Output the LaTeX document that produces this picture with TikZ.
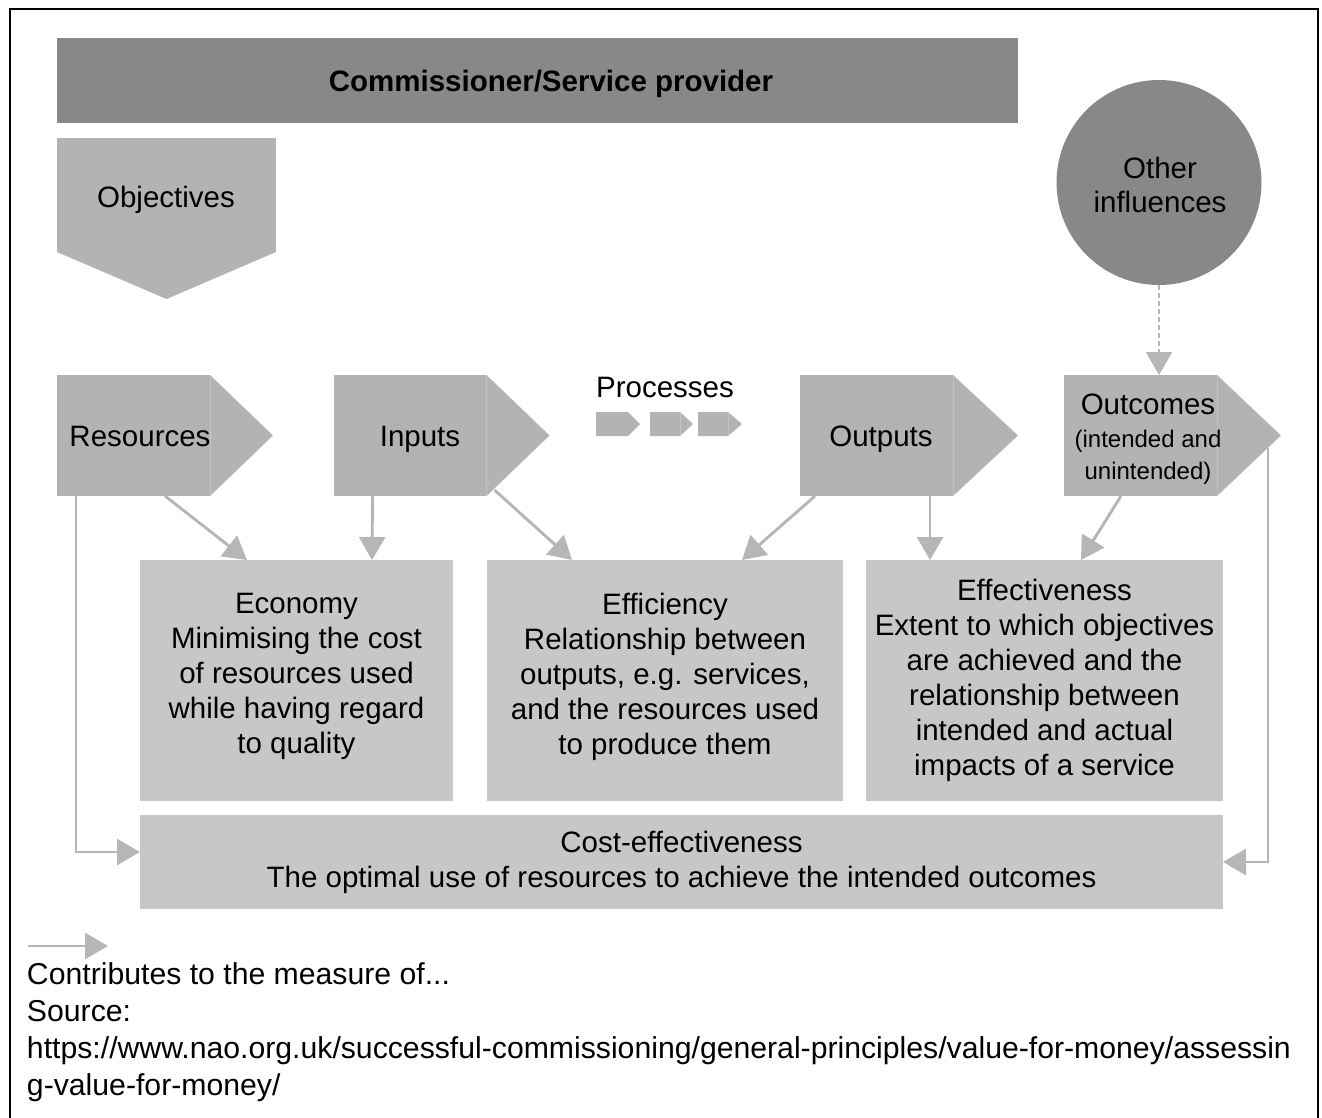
\documentclass[tikz,border=0pt]{standalone}
\usepackage{fontspec}
\setmainfont{Liberation Sans}
\usetikzlibrary{arrows.meta,calc}
\definecolor{barc}{RGB}{135,136,138}
\definecolor{pentc}{RGB}{178,179,181}
\definecolor{boxc}{RGB}{198,199,201}
\definecolor{linec}{RGB}{181,182,184}
\definecolor{sepc}{RGB}{196,197,199}
\newcommand\mypentip[2]{%
  \fill[pentc] (#1.north east) -- ($(#1.east)+(#2,0)$) -- (#1.south east) -- cycle;
  \draw[sepc,line width=0.8pt] (#1.north east) -- (#1.south east);}
\begin{document}
\begin{tikzpicture}[x=1pt,y=-1pt,
  font=\fontsize{29.5}{35}\selectfont,
  blk/.style={inner sep=0pt,outer sep=0pt,draw=none},
  pent/.style={blk,fill=pentc,minimum width=153pt,minimum height=121pt},
  mbox/.style={blk,fill=boxc,align=center},
  conn/.style={draw=linec,line width=2.9pt,-{Triangle[length=23pt,width=26pt]}},
  lbl/.style={inner sep=0pt,outer sep=0pt,anchor=base},
  small/.style={font=\fontsize{24}{30}\selectfont},
  legt/.style={lbl,anchor=base west,font=\fontsize{30.2}{35}\selectfont},
]
\useasboundingbox (0,0) rectangle (1322,1117);
\draw[black,line width=2.6pt] (1318,1125) -- (1318,8.8) -- (10,8.8) -- (10,1125);

% header bar
\node[blk,fill=barc,minimum width=961pt,minimum height=85pt] (comm) at (537.5,80) {};
\node[lbl,font=\bfseries\fontsize{29.5}{35}\selectfont] (commt) at (551,91.5) {Commissioner/Service provider};

% objectives
\node[blk,fill=pentc,minimum width=219pt,minimum height=114pt] (obj) at (166.5,195) {};
\fill[pentc] (obj.south west) -- ($(obj.south)+(0,47)$) -- (obj.south east) -- cycle;
\node[lbl] (objt) at (166,207) {Objectives};

% other influences
\node[blk,circle,fill=barc,minimum size=205pt] (oth) at (1159,182.5) {};
\node[lbl] (otht1) at (1160,178.5) {Other};
\node[lbl] (otht2) at (1160,212) {influences};

% pentagons
\node[pent] (res) at (133.5,435.5) {};
\mypentip{res}{63}
\node[lbl] (rest) at (140,446.5) {Resources};

\node[pent] (inp) at (410,435.5) {};
\mypentip{inp}{63}
\node[lbl] (inpt) at (420,446.5) {Inputs};

\node[pent] (outp) at (876.5,435.5) {};
\mypentip{outp}{65}
\node[lbl] (outpt) at (881,446.5) {Outputs};

\node[pent] (outc) at (1140.5,435.5) {};
\mypentip{outc}{64}
\node[lbl] (outct1) at (1148,414) {Outcomes};
\node[lbl,small] (outct2) at (1148,447) {(intended and};
\node[lbl,small] (outct3) at (1148,479.5) {unintended)};

% processes
\node[lbl] (proct) at (665,397) {Processes};
\foreach \a/\b/\c in {596/628/640, 650/680/693, 698/728/742}{
  \fill[pentc] (\a,412) -- (\b,412) -- (\c,424) -- (\b,436) -- (\a,436) -- cycle;
}
\draw[sepc,line width=0.8pt] (680,412) -- (680,436);
\draw[sepc,line width=0.8pt] (728,412) -- (728,436);

% measure boxes
\node[mbox,minimum width=313pt,minimum height=241pt] (econ) at (296.5,680.5)
  {Economy\\Minimising the cost\\of resources used\\while having regard\\to quality\\[-21pt]\mbox{}};
\node[mbox,minimum width=356pt,minimum height=241pt] (effi) at (665,680.5)
  {Efficiency\\Relationship between\\outputs, e.g. services,\\and the resources used\\to produce them\\[-21pt]\mbox{}};
\node[mbox,minimum width=357pt,minimum height=241pt] (effe) at (1044.5,680.5)
  {Effectiveness\\Extent to which objectives\\are achieved and the\\relationship between\\intended and actual\\impacts of a service};
\node[mbox,minimum width=1083pt,minimum height=94pt] (cost) at (681.5,862)
  {Cost-effectiveness\\The optimal use of resources to achieve the intended outcomes};

% connectors
\draw[conn] ($(res.south west)+(108,0)$) -- ($(econ.north west)+(107,0)$);
\draw[conn] ($(inp.south west)+(39,0)$) -- ($(econ.north west)+(232,0)$);
\draw[conn] ($(inp.south east)+(8,-6)$) -- ($(effi.north west)+(85,0)$);
\draw[conn] ($(outp.south west)+(15,0)$) -- ($(effi.north west)+(255,0)$);
\draw[conn] ($(outp.south west)+(130,0)$) -- ($(effe.north west)+(64,0)$);
\draw[conn] ($(outc.south west)+(57,0)$) -- ($(effe.north west)+(215,0)$);
\draw[conn] ($(res.south west)+(19,0)$) |- ($(cost.west)+(0,-10)$);
\draw[conn] ($(outc.south east)+(51,-48)$) |- (cost.east);
\draw[draw=linec,line width=2.6pt,dash pattern=on 5pt off 3pt,-{Triangle[length=23pt,width=26pt]}]
  (oth.south) -- (oth.south |- outc.north);

% legend
\coordinate (lgA) at (28,946);
\coordinate (lgB) at (108,946);
\draw[conn] (lgA) -- (lgB);
\node[legt] (leg1) at (27,984) {Contributes to the measure of...};
\node[legt] (leg2) at (27,1021) {Source:};
\node[legt] (leg3) at (27,1058) {https://www.nao.org.uk/successful-commissioning/general-principles/value-for-money/assessin};
\node[legt] (leg4) at (27,1095) {g-value-for-money/};
\end{tikzpicture}
\end{document}
